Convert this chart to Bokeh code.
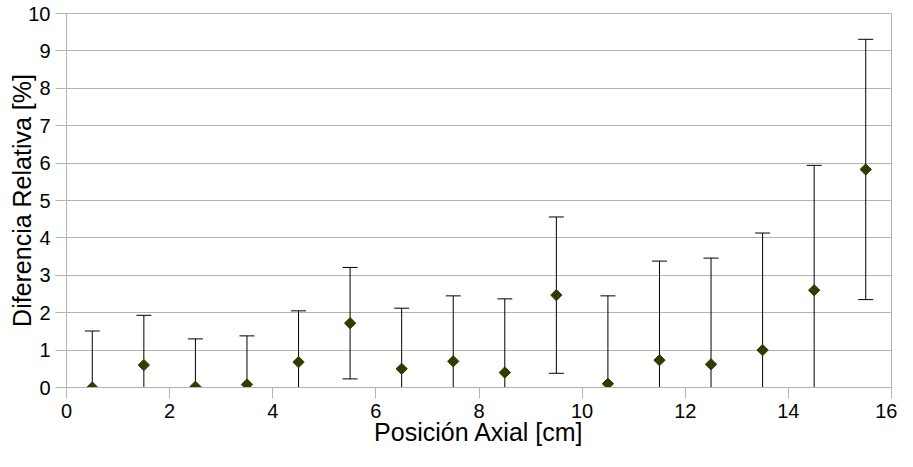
import numpy as np
from bokeh.plotting import figure
from bokeh.models import ColumnDataSource, Whisker, TeeHead, FixedTicker, Range1d
from bokeh.embed import file_html
from bokeh.resources import INLINE

# data
positions = [0.5, 1.5, 2.5, 3.5, 4.5, 5.5, 6.5, 7.5, 8.5, 9.5, 10.5, 11.5, 12.5, 13.5, 14.5, 15.5]
diff_rel = [0.0, 0.60, 0.02, 0.08, 0.68, 1.72, 0.50, 0.70, 0.40, 2.47, 0.10, 0.73, 0.62, 1.00, 2.60, 5.83]
errors = [1.51, 1.33, 1.28, 1.30, 1.37, 1.49, 1.62, 1.75, 1.97, 2.09, 2.35, 2.65, 2.84, 3.13, 3.34, 3.48]
x_ticks = [0, 2, 4, 6, 8, 10, 12, 14, 16]
y_ticks = [0, 1, 2, 3, 4, 5, 6, 7, 8, 9, 10]

upper = [v + e for v, e in zip(diff_rel, errors)]
lower = [v - e for v, e in zip(diff_rel, errors)]
src = ColumnDataSource(dict(x=positions, y=diff_rel, upper=upper, lower=lower))

FONT = "Liberation Sans"
GRID = "#b3b3b3"

p = figure(frame_width=825, frame_height=374, output_backend="svg", toolbar_location=None,
           x_range=Range1d(0, 16), y_range=Range1d(0, 10),
           min_border_left=66, min_border_right=6, min_border_top=13, min_border_bottom=40)

p.outline_line_color = GRID
p.xgrid.grid_line_color = None
p.ygrid.grid_line_color = GRID
p.ygrid.grid_line_width = 1

for ax in (p.xaxis[0], p.yaxis[0]):
    ax.axis_line_color = GRID
    ax.major_tick_line_color = GRID
    ax.major_tick_out = 11
    ax.major_tick_in = 0
    ax.minor_tick_line_color = None
    ax.major_label_text_font = FONT
    ax.major_label_text_font_size = "20px"
    ax.major_label_text_color = "black"
    ax.axis_label_text_font = FONT
    ax.axis_label_text_font_size = "25px"
    ax.axis_label_text_font_style = "normal"
    ax.axis_label_text_color = "black"

p.xaxis.ticker = FixedTicker(ticks=x_ticks)
p.yaxis.ticker = FixedTicker(ticks=y_ticks)
p.xaxis.axis_label = "Posición Axial [cm]"
p.yaxis.axis_label = "Diferencia Relativa [%]"
p.xaxis.major_label_standoff = 5
p.yaxis.major_label_standoff = 5
p.xaxis.axis_label_standoff = -3
p.yaxis.axis_label_standoff = -11

w = Whisker(source=src, base="x", upper="upper", lower="lower",
            line_color="black", line_width=1,
            upper_head=TeeHead(size=15, line_color="black", line_width=1),
            lower_head=TeeHead(size=15, line_color="black", line_width=1))
p.add_layout(w)

p.scatter("x", "y", source=src, marker="square", angle=np.pi / 4, size=8,
          fill_color="#2f3d00", line_color="#2f3d00")

open("out.html", "w").write(file_html(p, INLINE))
